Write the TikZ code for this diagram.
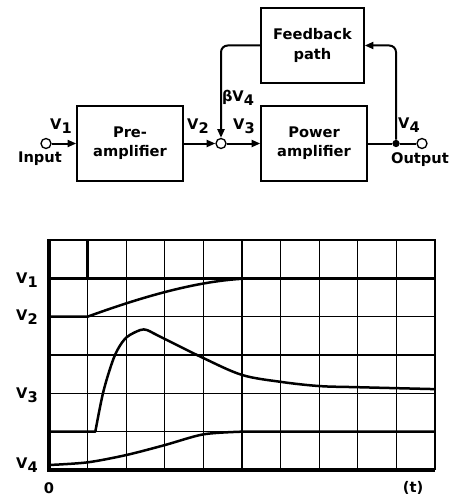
\documentclass[tikz,border=0pt]{standalone}
\usepackage{fontspec}
\setmainfont{DejaVu Sans}
\usetikzlibrary{arrows.meta,positioning}
\newcommand\vsub[1]{\raisebox{-0.45ex}{#1}}

\begin{document}
\begin{tikzpicture}[x=0.3mm,y=-0.3mm,
  blk/.style={draw,line width=0.45mm,minimum width=31.8mm,minimum height=22.5mm,
    align=center,font=\fontsize{12.5}{16.5}\selectfont\bfseries},
  term/.style={draw,circle,line width=0.4mm,inner sep=0pt,minimum size=3mm,fill=white},
  sig/.style={line width=0.6mm},
  lbl/.style={font=\fontsize{12.5}{14}\selectfont\bfseries,inner sep=1pt},
  trace/.style={line width=0.75mm,line join=round},
  >={Triangle[length=2.6mm,width=2.1mm]}]
  \useasboundingbox (0,0) rectangle (462,496);
  % block diagram
  \node[blk] (pre) at (130,143.5) {Pre-\\amplifier};
  \node[blk] (pow) at (314,143.5) {Power\\amplifier};
  \node[blk,minimum width=30.9mm] (fb) at (312.5,45.5) {Feedback\\path};
  \node[term] (in) at (46,143.5) {};
  \node[term] (sum) at (221,143.5) {};
  \node[term] (out) at (422,143.5) {};
  \node[circle,fill,inner sep=0pt,minimum size=2.2mm] (jn) at (396,143.5) {};
  \draw[sig,->] (in) -- (pre);
  \draw[sig,->] (pre) -- (sum);
  \draw[sig,->] (sum) -- (pow);
  \draw[sig] (pow) -- (jn) -- (out);
  \draw[sig,->,rounded corners=2mm] (fb.west) -| (sum);
  \draw[sig,->,rounded corners=2mm] (jn) |- (fb.east);
  \node[lbl] (v1) at (61,126) {V\vsub{1}};
  \node[lbl] (inlbl) at (40,159) {Input};
  \node[lbl] (v2) at (198,126) {V\vsub{2}};
  \node[lbl] (v3) at (244,126) {V\vsub{3}};
  \node[lbl] (bv4) at (238,98) {βV\vsub{4}};
  \node[lbl] (v4) at (409,125) {V\vsub{4}};
  \node[lbl] (outlbl) at (420,160) {Output};
  % oscillogram
  \begin{scope}[shift={(49,470)},x=11.58mm,y=11.5mm]
    \foreach \i in {1,...,9} \draw[line width=0.38mm] (\i,0) -- (\i,6);
    \foreach \j in {1,...,5} \draw[line width=0.38mm] (0,\j) -- (10,\j);
    \draw[line width=0.5mm] (0,6) -- (10,6) -- (10,0);
    \draw[line width=1.1mm] (0,6.02) -- (0,0) -- (10,0);
    \draw[trace] (0,5) -- (10,5);
    \draw[trace] (1,6) -- (1,5);
    \draw[trace] (0,4) -- (1,4) .. controls (2.5,4.55) and (4,4.98) .. (5.3,5);
    \draw[trace] (0,1) -- plot[smooth,tension=0.55] coordinates {(1.2,1) (1.4,2.01) (1.63,2.79)
      (1.8,3.18) (2.02,3.47) (2.36,3.65) (2.54,3.65) (2.8,3.52) (4,2.92) (5,2.48) (6,2.3)
      (7,2.19) (8,2.16) (10,2.11)};
    \draw[trace] plot[smooth] coordinates {(0,0.13) (1,0.2) (2,0.39) (3,0.65) (4,0.93) (5,1)} -- (10,1);
  \end{scope}
  \node[lbl] (g1) at (27,280) {V\vsub{1}};
  \node[lbl] (g2) at (27,317) {V\vsub{2}};
  \node[lbl] (g3) at (27,395) {V\vsub{3}};
  \node[lbl] (g4) at (27,465) {V\vsub{4}};
  \node[lbl] (zero) at (49,488) {0};
  \node[lbl] (tlbl) at (413,488) {(t)};
\end{tikzpicture}
\end{document}
